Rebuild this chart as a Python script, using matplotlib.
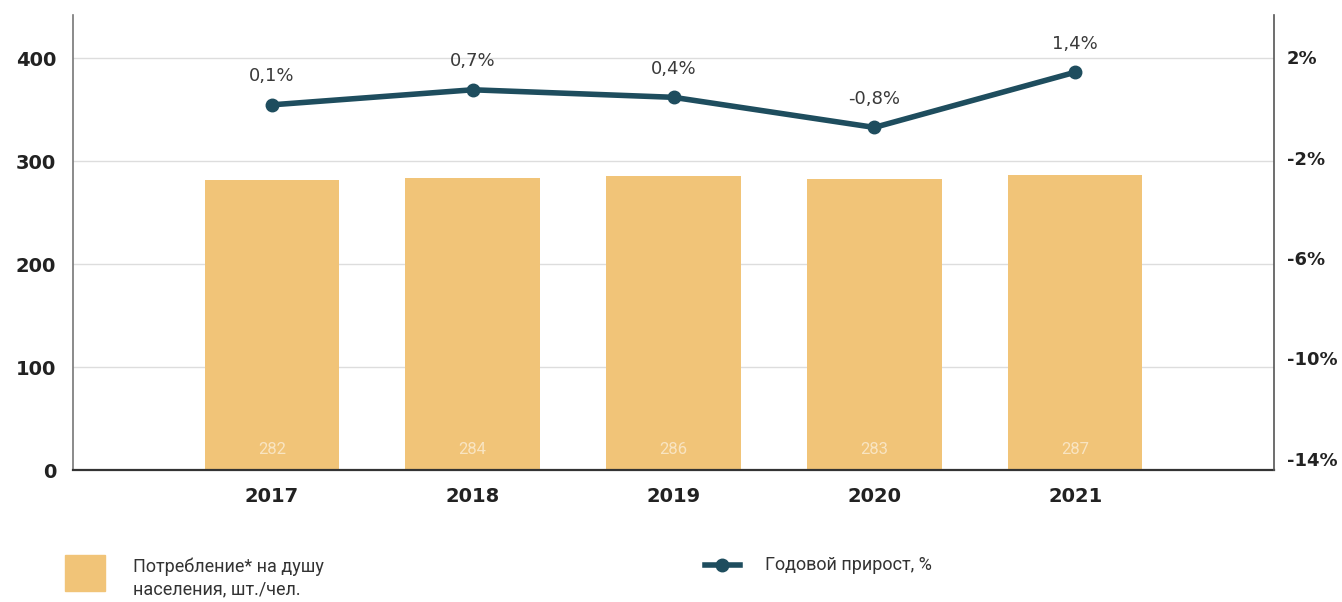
import matplotlib
matplotlib.use("Agg")
import matplotlib.pyplot as plt
from matplotlib.lines import Line2D
from matplotlib.patches import Rectangle

years = ["2017", "2018", "2019", "2020", "2021"]
consumption = [282, 284, 286, 283, 287]
growth = [0.1, 0.7, 0.4, -0.8, 1.4]
growth_labels = ["0,1%", "0,7%", "0,4%", "-0,8%", "1,4%"]
left_ticks = [0, 100, 200, 300, 400]
right_ticks = [-14, -10, -6, -2, 2]
right_tick_labels = ["-14%", "-10%", "-6%", "-2%", "2%"]
legend_bar = "Потребление* на душу\nнаселения, шт./чел."
legend_line = "Годовой прирост, %"

bar_color = "#F1C478"
line_color = "#1E4D5E"

plt.rcParams['font.family'] = ['DejaVu Sans']

fig = plt.figure(figsize=(13.42, 6.02), dpi=100)
W, H = 1342, 602
ax_left, ax_right, ax_top, ax_bottom = 73, 1274, 15, 470
ax = fig.add_axes([ax_left / W, 1 - ax_bottom / H, (ax_right - ax_left) / W, (ax_bottom - ax_top) / H])

x = list(range(len(years)))
ax.bar(x, consumption, width=0.67, color=bar_color, zorder=2)
ax.set_xlim(-0.99, 4.99)
ax.set_ylim(0, 442)
ax.set_yticks(left_ticks)
ax.set_yticklabels([str(v) for v in left_ticks], fontsize=14, fontweight='bold', color='#222222')
ax.set_xticks(x)
ax.set_xticklabels(years, fontsize=14, fontweight='bold', color='#222222')
ax.tick_params(axis='both', length=0, pad=12)
ax.tick_params(axis='x', pad=12)
for t in left_ticks[1:]:
    ax.axhline(t, color='#DDDDDD', lw=1, zorder=1)
for s in ['top', 'right']:
    ax.spines[s].set_visible(False)
ax.spines['left'].set_color('#777777')
ax.spines['left'].set_linewidth(1.2)
ax.spines['bottom'].set_color('#333333')
ax.spines['bottom'].set_linewidth(1.6)

for xi, v in zip(x, consumption):
    ax.text(xi, 20, str(v), ha='center', va='center', fontsize=12, color='white', alpha=0.55,
            zorder=3, family=['Roboto', 'DejaVu Sans'])

ax2 = ax.twinx()
ax2.set_ylim(-14.45, 3.68)
ax2.plot(x, growth, color=line_color, lw=4, marker='o', markersize=9, zorder=4)
ax2.set_yticks(right_ticks)
ax2.set_yticklabels(right_tick_labels, fontsize=13, fontweight='bold', color='#222222')
ax2.tick_params(axis='y', length=0, pad=9)
for s in ['top', 'left', 'bottom']:
    ax2.spines[s].set_visible(False)
ax2.spines['right'].set_color('#555555')
ax2.spines['right'].set_linewidth(1.2)
for xi, g, lab in zip(x, growth, growth_labels):
    ax2.annotate(lab, (xi, g), xytext=(0, 14), textcoords='offset points',
                 ha='center', va='bottom', fontsize=13, color='#3a3a3a')

# legend
fig.patches.append(Rectangle((65 / W, 1 - 591 / H), 40 / W, 36 / H, transform=fig.transFigure,
                             color=bar_color, zorder=5))
fig.text(133 / W, 1 - 578 / H, legend_bar, fontsize=13, color='#333333', va='center', ha='left',
         linespacing=1.25, family=['Roboto', 'DejaVu Sans'])
fig.lines.append(Line2D([705 / W, 740 / W], [1 - 565 / H, 1 - 565 / H], transform=fig.transFigure,
                        color=line_color, lw=4, zorder=5))
fig.lines.append(Line2D([722 / W], [1 - 565 / H], transform=fig.transFigure,
                        color=line_color, marker='o', markersize=9, zorder=6, lw=0))
fig.text(765 / W, 1 - 565 / H, legend_line, fontsize=13, color='#333333', va='center', ha='left',
         family=['Roboto', 'DejaVu Sans'])

fig.savefig("out.png", dpi=100, facecolor='white')
